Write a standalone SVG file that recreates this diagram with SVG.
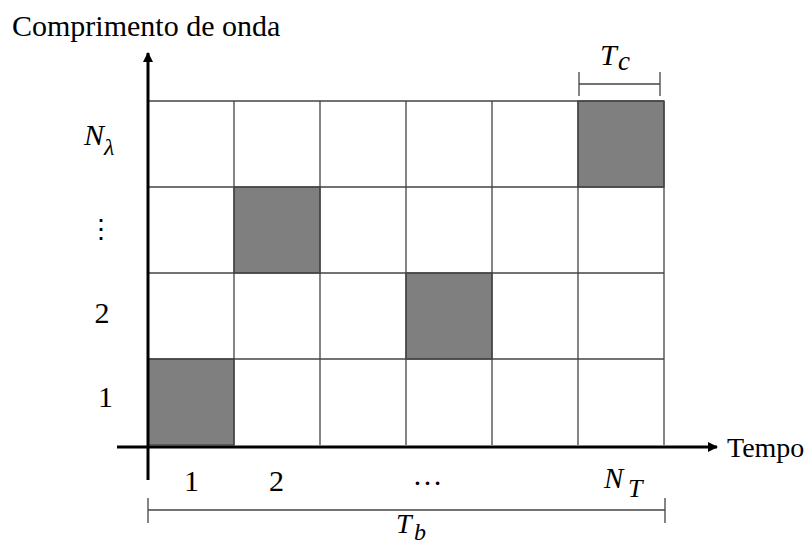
<svg xmlns="http://www.w3.org/2000/svg" width="808" height="546" viewBox="0 0 808 546">
<defs>
<style>
.t{font-family:"Liberation Serif","Times New Roman",serif;fill:#000}
.i{font-family:"Liberation Serif","Times New Roman",serif;font-style:italic;fill:#000}
.grid{stroke:#444;stroke-width:1.3;fill:none}
.cell{fill:#7f7f7f;stroke:#444;stroke-width:1.3}
.axis{stroke:#000;stroke-width:3;fill:none}
.br{stroke:#444;stroke-width:1.3;fill:none}
</style>
<marker id="ah" viewBox="0 0 10 10" refX="9" refY="5" markerWidth="10" markerHeight="10" markerUnits="userSpaceOnUse" orient="auto">
<path d="M0,0 L10,5 L0,10 Z" fill="#000"/>
</marker>
</defs>
<rect width="808" height="546" fill="#fff"/>
<g id="cells">
<rect class="cell" x="148" y="359" width="86" height="86"/>
<rect class="cell" x="234" y="187" width="86" height="86"/>
<rect class="cell" x="406" y="273" width="86" height="86"/>
<rect class="cell" x="578" y="101" width="86" height="86"/>
</g>
<g id="grid" class="grid">
<path d="M148,101 H664 M148,187 H664 M148,273 H664 M148,359 H664"/>
<path d="M234,101 V445 M320,101 V445 M406,101 V445 M492,101 V445 M578,101 V445 M664,101 V445"/>
</g>
<g id="connectors">
<line class="axis" x1="148" y1="480" x2="148" y2="53" marker-end="url(#ah)"/>
<line class="axis" x1="117" y1="447" x2="717" y2="447" marker-end="url(#ah)"/>
<path class="br" d="M579,84 H660 M579,72 V96 M660,72 V96"/>
<path class="br" d="M148,510 H665 M148,498 V523 M665,498 V523"/>
</g>
<g id="labels">
<text class="t" x="12" y="36" font-size="30">Comprimento de onda</text>
<text class="t" x="727" y="457" font-size="28">Tempo</text>
<text class="t" x="191.5" y="491" font-size="30" text-anchor="middle">1</text>
<text class="t" x="276.5" y="491" font-size="30" text-anchor="middle">2</text>
<text class="t" x="427.5" y="485" font-size="30" text-anchor="middle">…</text>
<text class="t" x="102" y="323" font-size="30" text-anchor="middle">2</text>
<text class="t" x="105.5" y="407" font-size="30" text-anchor="middle">1</text>
<text class="t" x="101" y="238" font-size="26" text-anchor="middle">⋮</text>
<text class="i" x="84" y="145" font-size="30">N</text>
<text class="i" x="104" y="155" font-size="24">λ</text>
<text class="i" x="604" y="488" font-size="29">N</text>
<text class="i" x="628" y="497" font-size="26">T</text>
<text class="i" x="600" y="65" font-size="30">T</text>
<text class="i" x="618" y="70" font-size="27">c</text>
<text class="i" x="396" y="533" font-size="28">T</text>
<text class="i" x="414" y="540" font-size="24">b</text>
</g>
</svg>
